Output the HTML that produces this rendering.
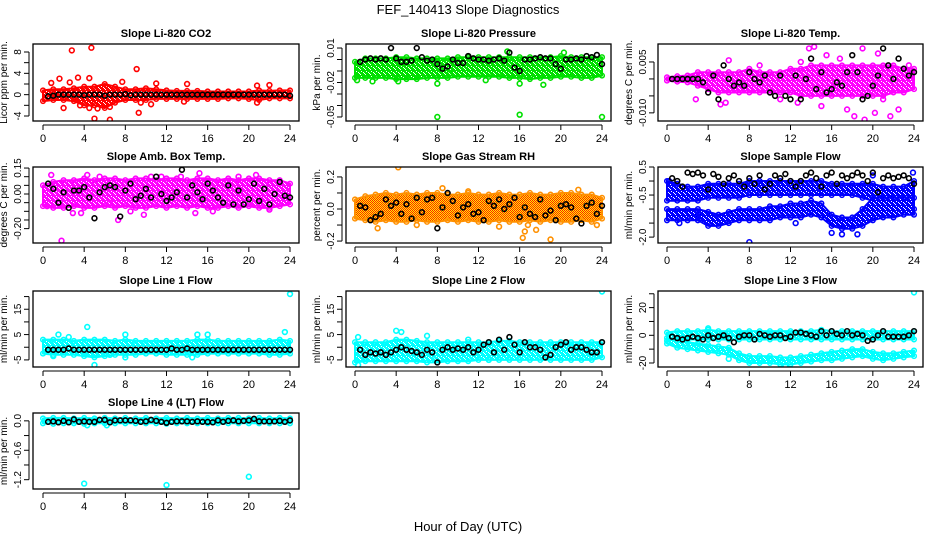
<!DOCTYPE html>
<html><head><meta charset="utf-8">
<style>
html,body{margin:0;padding:0;background:#fff;}
svg{display:block;font-family:"Liberation Sans",sans-serif;}
</style></head>
<body>
<svg id="chart" width="936" height="540" viewBox="0 0 936 540" xmlns="http://www.w3.org/2000/svg">
<defs id="defs">
<pattern id="rhpat" width="2" height="2" patternUnits="userSpaceOnUse">
<rect width="2" height="2" fill="#ffee00"/><rect width="1" height="1" fill="#ff2000"/><rect x="1" y="1" width="1" height="1" fill="#ff2000"/>
</pattern>
</defs>
<text x="468" y="14" text-anchor="middle" font-size="13">FEF_140413  Slope Diagnostics</text>
<text x="468" y="531" text-anchor="middle" font-size="13">Hour of Day (UTC)</text>
<g id="panels"></g>
</svg>
<script>
// ---- shared data ----
const xTicks = [0,4,8,12,16,20,24];
const bandHours = [0,1,2,3,4,5,6,7,8,9,10,11,12,13,14,15,16,17,18,19,20,21,22,23,24];
const blackHours = [0.5,1,1.5,2,2.5,3,3.5,4,4.5,5,5.5,6,6.5,7,7.5,8,8.5,9,9.5,10,10.5,11,11.5,12,12.5,13,13.5,14,14.5,15,15.5,16,16.5,17,17.5,18,18.5,19,19.5,20,20.5,21,21.5,22,22.5,23,23.5,24];

// Panel 1 CO2
const co2Lo = [-1.2,-1,-1,-1.2,-2,-2,-2.5,-1.5,-1,-1,-1,-0.8,-0.8,-0.8,-0.8,-0.8,-0.8,-0.8,-0.7,-0.7,-0.8,-1,-0.7,-0.7,-0.7];
const co2Hi = [0.8,1,1,1.2,1.5,1.5,2,1.5,1,1,1.2,1,0.8,0.7,0.7,0.7,0.6,0.6,0.6,0.6,0.6,0.8,0.7,0.8,0.8];
const co2OutX = [2.8,4.7,9.1,1.6,3.4,4.5,0.8,2.6,7.7,11,14,20.8,22,2,3.6,4.5,5.0,6.5,9.3,6.5,5.3,10.5,13.7,20.8,9.5];
const co2OutY = [8.3,8.8,4.8,3,3.2,3.1,2.2,2.3,2.4,2.1,2,1.7,1.8,-2.5,-2,-2.5,-4.5,-4.7,-3.4,-2.3,-2.6,-1.8,-1.3,-1.5,-1.5];
const co2Black = [-0.3,-0.2,0,0,0,0,0,-0.1,0,0,0,-0.2,0,0,0,0.1,-0.1,0,0,0,0,0,0,0,0,0,0,0,0,0,0,0,0,0,0,0,0,0,0,0,0,0,0,0,0,0,0,-0.2];
// Panel 2 Pressure
const presLo = [-0.016,-0.016,-0.016,-0.016,-0.017,-0.017,-0.017,-0.016,-0.016,-0.016,-0.015,-0.015,-0.015,-0.015,-0.015,-0.016,-0.016,-0.017,-0.016,-0.016,-0.015,-0.015,-0.016,-0.016,-0.014];
const presHi = [-0.002,0.001,0.001,0.001,0.002,0.002,0.001,0.001,0.001,0.001,0.002,0.002,0.002,0.002,0.002,0.002,0.002,0.002,0.002,0.002,0.003,0.002,0.002,0.002,0.002];
const presOutX = [8,16,24,8,16,18.3,1.7,20.3,14.8,0.2,4.2,12.7,9.2];
const presOutY = [-0.05,-0.048,-0.05,-0.021,-0.021,-0.022,-0.019,0.006,0.007,-0.018,-0.019,-0.018,-0.012];
const presBlack = [-0.002,0,0.001,0,0.001,0,0.01,0.001,-0.002,-0.002,-0.001,0.01,0.002,-0.001,0,-0.004,-0.008,-0.006,0,-0.003,-0.003,0.003,0.001,0,0,-0.001,0,0.001,-0.001,0.006,-0.007,-0.01,0,0,0.001,0.002,0.001,0.001,-0.004,-0.008,0,0,0.001,0,0.003,0.002,0.004,-0.004];
// Panel 3 Li-820 Temp
const tempLo = [-0.0005,-0.0008,-0.001,-0.002,-0.003,-0.004,-0.004,-0.004,-0.004,-0.004,-0.004,-0.004,-0.004,-0.005,-0.005,-0.005,-0.005,-0.005,-0.005,-0.005,-0.005,-0.005,-0.004,-0.004,-0.003];
const tempHi = [0.0005,0.0008,0.001,0.002,0.002,0.002,0.002,0.002,0.003,0.002,0.002,0.002,0.003,0.003,0.004,0.004,0.004,0.004,0.004,0.004,0.004,0.004,0.004,0.003,0.003];
const tempOutX = [13.8,14.3,19,20.5,12.7,15,18.2,19.2,19.5,21.7,22.5,20.2,2.8,5.2,5.7,6,17.5,15.5,11,9,16.8,21,23.5,13];
const tempOutY = [0.009,0.0095,0.009,0.0075,-0.007,-0.008,-0.011,-0.012,-0.0145,-0.011,-0.009,-0.010,-0.006,-0.0075,-0.007,0.0055,-0.009,0.007,-0.006,0.004,0.006,-0.006,0.004,0.005];
const tempBlack = [0,0,0,0,0,0,-0.001,-0.004,0.001,-0.006,0.004,0,-0.002,-0.001,-0.002,0.002,0,-0.001,0.001,-0.004,-0.005,0.001,-0.005,-0.006,0.001,-0.006,0,0.006,-0.003,0.002,-0.004,-0.003,-0.001,-0.002,0.002,0.007,0.002,-0.006,-0.005,-0.002,0.001,0.009,0.004,0,0.006,0.003,0.001,0.002];
// Panel 4 Amb Box Temp
const ambLo = [-0.07,-0.08,-0.08,-0.07,-0.08,-0.08,-0.07,-0.08,-0.07,-0.08,-0.08,-0.07,-0.08,-0.07,-0.08,-0.07,-0.08,-0.08,-0.07,-0.08,-0.07,-0.08,-0.08,-0.07,-0.06];
const ambHi = [0.05,0.07,0.08,0.08,0.09,0.08,0.09,0.09,0.08,0.09,0.09,0.08,0.09,0.09,0.08,0.09,0.09,0.08,0.09,0.08,0.09,0.09,0.08,0.08,0.06];
const ambOutX = [1.8,0.8,4.3,15.2,7.3,10.5,3.7,2.9,9.8,14.8,16.5,6.5,22,11.5,19,20.7,13.4,8.5,5.5,0.4];
const ambOutY = [-0.27,0.11,0.11,0.12,-0.15,0.1,-0.11,-0.11,-0.12,-0.11,-0.1,-0.05,-0.09,0.1,0.1,0.11,0.1,-0.1,0.1,-0.07];
const ambBlack = [0.06,0.03,-0.05,0.01,-0.08,0.02,0.02,0.04,-0.02,-0.14,0.01,0.04,0.05,0.04,-0.13,0.02,0.06,-0.03,-0.01,0.03,-0.02,0.1,0,-0.04,-0.02,0.01,0.14,-0.02,0.05,0.01,-0.03,0.06,0.02,-0.02,-0.05,0.05,-0.06,0.02,-0.06,-0.03,0.06,-0.04,0.03,-0.06,0,0.07,-0.01,-0.02];
// Panel 5 Gas Stream RH
const rhLo = [-0.06,-0.07,-0.08,-0.07,-0.08,-0.08,-0.07,-0.08,-0.08,-0.07,-0.08,-0.07,-0.08,-0.08,-0.07,-0.08,-0.08,-0.07,-0.08,-0.07,-0.08,-0.08,-0.07,-0.08,-0.06];
const rhHi = [0.06,0.08,0.09,0.1,0.09,0.1,0.09,0.1,0.1,0.09,0.09,0.1,0.09,0.09,0.1,0.09,0.09,0.1,0.09,0.09,0.1,0.1,0.09,0.09,0.07];
const rhOutX = [4.2,16.3,16.5,19,16.8,2.2,8.5,17.6,23.5,21.7,14,11,6];
const rhOutY = [0.26,-0.18,-0.14,-0.19,-0.1,-0.12,0.13,-0.13,-0.1,0.12,-0.11,0.11,-0.1];
const rhBlack = [0.02,0.01,-0.07,-0.05,-0.03,0.06,0.02,0.04,-0.03,0.03,-0.06,0.07,-0.02,0.06,0.07,-0.12,0.01,0.10,0.05,-0.04,0.01,0.03,-0.03,-0.02,-0.07,0.05,0.02,0.06,0.00,0.03,0.07,-0.05,0.01,-0.03,-0.05,0.06,-0.04,-0.01,-0.07,0.02,0.03,0.01,-0.06,-0.09,0.02,0.04,-0.03,0.02];
// Panel 6 Sample Flow (two bands)
const sfTopLo = [-0.7,-0.7,-0.7,-0.7,-0.6,-0.6,-0.6,-0.6,-0.5,-0.5,-0.5,-0.5,-0.5,-0.5,-0.5,-0.5,-0.5,-0.5,-0.5,-0.6,-0.7,-0.8,-0.9,-1.0,-1.0];
const sfTopHi = [0,-0.1,-0.2,-0.2,-0.1,-0.1,-0.1,-0.1,0,0,0,0,0,0,0,0,-0.1,-0.1,-0.1,-0.1,-0.1,-0.2,-0.2,-0.2,0];
const sfBotLo = [-1.4,-1.4,-1.4,-1.4,-1.6,-1.6,-1.5,-1.4,-1.4,-1.4,-1.4,-1.3,-1.3,-1.3,-1.2,-1.3,-1.6,-1.7,-1.7,-1.6,-1.4,-1.3,-1.3,-1.2,-1.2];
const sfBotHi = [-1.0,-1.0,-1.0,-1.0,-1.1,-1.2,-1.1,-1.0,-1.0,-1.0,-0.9,-0.9,-0.8,-0.8,-0.7,-0.8,-1.2,-1.3,-1.3,-1.0,-0.6,-0.6,-0.6,-0.6,-0.6];
const sfOutX = [8,16,1.2,23.9,0.2,17,3,12.5,18.5,20];
const sfOutY = [-2.18,-1.85,-1.5,0.3,0,-1.9,-1.2,-1.5,-1.9,0.2];
const sfBlack = [0.1,0.0,-0.2,0.3,0.25,0.3,0.2,-0.3,0.25,0.15,-0.1,0.1,0.2,0,-0.2,0.1,-0.1,0.2,-0.3,-0.1,0.2,0.1,0.25,0,-0.2,0,0.2,0.3,0.1,-0.2,0.2,0.3,-0.1,0.2,0.1,0.2,0.3,0.2,0,0.3,-0.4,0.1,0.2,0.1,0.15,0.2,0.1,-0.1];
// Panel 7 Line 1 Flow
const l1Lo = [-2.5,-3,-3,-3,-3.5,-4,-3.5,-3,-3,-3,-2.5,-2.5,-3,-3,-3,-3,-2.5,-2.5,-2.5,-2.5,-2.5,-2.5,-3,-3,-2.5];
const l1Hi = [3,3,3,2.5,3,3,3,2.5,3,2.5,2.5,2.5,2.5,2.5,2.5,3,3,2.5,2.5,2.5,2.5,2.5,2.5,3,2.5];
const l1OutX = [24,4.3,5,8,1.5,15,23.5,14.5,8,1,16,6.5,2.5];
const l1OutY = [21,8,-7,5,5,5,6,-4,-4,-3.5,5,-3,4];
const l1Black = [-1,-1,-1,-1,-0.5,-1,-1,-1,-1,-1,-1,-1,-1,-1,-1,-1,-1,-1,-1,-1,-1,-1,-1,-1,-0.5,-1,-1,-0.5,-1,-1,-1,-1,-1,-1,-1,-1,-1,-1,-1,-1,-1,-1,-1,-1,-1,-1,-1,-1];
// Panel 8 Line 2 Flow
const l2Lo = [-6,-5.5,-5.5,-5.5,-5.5,-5.5,-5.5,-6,-6,-5.5,-5.5,-5.5,-5,-5,-5,-5,-5,-5,-5,-5,-5,-5,-5,-5,-4];
const l2Hi = [2,2,2,2,3,3,2.5,2,2,2,2,2,2,2,2.5,2.5,2,2,2,2,2,2,2,2,2];
const l2OutX = [24,4,4.5,7,0.3,0.3,7.8,11,13];
const l2OutY = [22,6.5,6,4.5,-7,4,-5,3,-5];
const l2Black = [-1,-3,-2,-2.5,-2,-3,-2,-1,0,-1,-1.5,-2,-3,-1,-2,-6,-1,0,-1,-0.5,-1,0,-2,-1,1,2,-2,3,-1,4,1,-2,2,0,0,-1,-4,-3,0,1,2,-1,0,0,-1,-2,-2,2];
// Panel 9 Line 3 Flow (two bands)
const l3TopLo = [-4,-3,-3,-3,-3,-3,-3,-3,-3,-3,-3,-3,-3,-3,-3,-3,-3,-3,-3,-3,-3,-3,-3,-3,-3];
const l3TopHi = [2,3,3,3,4,3,3,3,3,3,3,3,3,3,3,4,3,3,3,3,3,3,3,3,3];
const l3BotLo = [-6,-9,-10,-11,-12,-13,-14,-18,-20,-20,-20,-21,-21,-20,-19,-18,-18,-17,-16,-15,-17,-18,-17,-16,-15];
const l3BotHi = [-2,-4,-5,-6,-7,-8,-9,-13,-15,-15,-15,-16,-16,-15,-14,-13,-12,-11,-10,-10,-12,-13,-13,-12,-11];
const l3OutX = [24,6,11.5,4];
const l3OutY = [31,-17,-22,5];
const l3Black = [-1,-2,-3,-2,-1,-2,-3,0,-2,-1,0,-2,-5,-1,0,0,-3,1,0,-1,0,0,-2,-1,2,2,1,0,-1,3,0,3,1,0,3,0,1,0,-4,-3,0,3,-1,-1,-1,-1,0,3];
// Panel 10 Line 4 (LT) Flow
const l4Lo = [-0.05,-0.06,-0.05,-0.05,-0.06,-0.05,-0.05,-0.05,-0.05,-0.05,-0.05,-0.05,-0.06,-0.05,-0.05,-0.05,-0.05,-0.05,-0.05,-0.05,-0.05,-0.05,-0.05,-0.05,-0.05];
const l4Hi = [0.05,0.06,0.06,0.05,0.06,0.05,0.06,0.05,0.06,0.05,0.06,0.05,0.06,0.05,0.06,0.05,0.06,0.05,0.06,0.06,0.05,0.06,0.05,0.06,0.05];
const l4OutX = [4,12,20,4.3,6.2];
const l4OutY = [-1.28,-1.31,-1.14,-0.09,-0.09];
const l4Black = [-0.02,-0.01,-0.03,0,-0.03,0.03,-0.02,-0.01,-0.02,-0.02,0.02,0.02,-0.03,0.01,0.01,0.01,0.01,0,-0.02,-0.01,0.02,0,-0.02,-0.04,-0.02,-0.01,-0.01,-0.01,-0.02,-0.01,-0.02,-0.02,-0.03,0.01,-0.02,0,0.01,-0.01,0,0.01,0.04,-0.01,-0.01,-0.01,-0.01,0,-0.02,0.01];

// y tick values & labels
const co2Ticks=[-4,-2,0,2,4,6,8], co2Labels=[-4,0,4,8];
const presTicks=[0.01,0,-0.01,-0.02,-0.03,-0.04,-0.05], presLabels=[0.01,-0.02,-0.05];
const tempTicks=[0.005,0,-0.005,-0.01], tempLabels=[0.005,-0.01];
const ambTicks=[0.15,0.1,0.05,0,-0.05,-0.1,-0.15,-0.2], ambLabels=[0.15,0,-0.2];
const rhTicks=[0.2,0.1,0,-0.1,-0.2], rhLabels=[0.2,0,-0.2];
const sfTicks=[0.5,0,-0.5,-1,-1.5,-2], sfLabels=[0.5,-0.5,-2];
const l1Ticks=[20,15,10,5,0,-5], l1Labels=[15,5,-5];
const l3Ticks=[30,20,10,0,-10,-20], l3Labels=[20,0,-20];
const l4Ticks=[0,-0.3,-0.6,-0.9,-1.2], l4Labels=[0,-0.6,-1.2];

const cols=[{l:33,r:299,x0:43,x1:290},{l:346,r:611,x0:355,x1:602},{l:658,r:923,x0:667,x1:914}];
const rows=[{t:44,b:121},{t:167,b:243},{t:291,b:367},{t:413,b:489}];

const panels=[
 {name:'co2',title:'Slope Li-820 CO2',ylab:'Licor ppm per min.',c:0,r:0,ymin:-4.94,ymax:9.5,color:'#ff0000',bands:[[co2Lo,co2Hi]],ox:co2OutX,oy:co2OutY,bk:co2Black,ticks:co2Ticks,labels:co2Labels,fmt:v=>String(v)},
 {name:'pressure',title:'Slope Li-820 Pressure',ylab:'kPa per min.',c:1,r:0,ymin:-0.0535,ymax:0.0135,color:'#00e000',bands:[[presLo,presHi]],ox:presOutX,oy:presOutY,bk:presBlack,ticks:presTicks,labels:presLabels,fmt:v=>v.toFixed(2)},
 {name:'li820-temp',title:'Slope Li-820 Temp.',ylab:'degrees C per min.',c:2,r:0,ymin:-0.0124,ymax:0.0103,color:'#ff00ff',bands:[[tempLo,tempHi]],ox:tempOutX,oy:tempOutY,bk:tempBlack,ticks:tempTicks,labels:tempLabels,fmt:v=>v.toFixed(3)},
 {name:'amb-box-temp',title:'Slope Amb. Box Temp.',ylab:'degrees C per min.',c:0,r:1,ymin:-0.283,ymax:0.156,color:'#ff00ff',bands:[[ambLo,ambHi]],ox:ambOutX,oy:ambOutY,bk:ambBlack,ticks:ambTicks,labels:ambLabels,fmt:v=>v.toFixed(2)},
 {name:'gas-stream-rh',title:'Slope Gas Stream RH',ylab:'percent per min.',c:1,r:1,ymin:-0.212,ymax:0.262,color:'#ff9000',fill:'url(#rhpat)',bands:[[rhLo,rhHi]],ox:rhOutX,oy:rhOutY,bk:rhBlack,ticks:rhTicks,labels:rhLabels,fmt:v=>v.toFixed(1)},
 {name:'sample-flow',title:'Slope Sample Flow',ylab:'ml/min per min.',c:2,r:1,ymin:-2.21,ymax:0.5,color:'#0000ff',bands:[[sfTopLo,sfTopHi],[sfBotLo,sfBotHi]],ox:sfOutX,oy:sfOutY,bk:sfBlack,ticks:sfTicks,labels:sfLabels,fmt:v=>v.toFixed(1)},
 {name:'line1-flow',title:'Slope Line 1 Flow',ylab:'ml/min per min.',c:0,r:2,ymin:-7.8,ymax:22.2,color:'#00ffff',bands:[[l1Lo,l1Hi]],ox:l1OutX,oy:l1OutY,bk:l1Black,ticks:l1Ticks,labels:l1Labels,fmt:v=>String(v)},
 {name:'line2-flow',title:'Slope Line 2 Flow',ylab:'ml/min per min.',c:1,r:2,ymin:-7.8,ymax:22.2,color:'#00ffff',bands:[[l2Lo,l2Hi]],ox:l2OutX,oy:l2OutY,bk:l2Black,ticks:l1Ticks,labels:l1Labels,fmt:v=>String(v)},
 {name:'line3-flow',title:'Slope Line 3 Flow',ylab:'ml/min per min.',c:2,r:2,ymin:-22.9,ymax:32,color:'#00ffff',bands:[[l3TopLo,l3TopHi],[l3BotLo,l3BotHi]],ox:l3OutX,oy:l3OutY,bk:l3Black,ticks:l3Ticks,labels:l3Labels,fmt:v=>String(v)},
 {name:'line4-flow',title:'Slope Line 4 (LT) Flow',ylab:'ml/min per min.',c:0,r:3,ymin:-1.39,ymax:0.16,color:'#00ffff',bands:[[l4Lo,l4Hi]],ox:l4OutX,oy:l4OutY,bk:l4Black,ticks:l4Ticks,labels:l4Labels,fmt:v=>v.toFixed(1)}
];

const NS='http://www.w3.org/2000/svg';
function mk(tag,attrs,parent){const e=document.createElementNS(NS,tag);for(const k in attrs)e.setAttribute(k,attrs[k]);parent.appendChild(e);return e;}
const root=document.getElementById('panels');
const defs=document.getElementById('defs');

panels.forEach(p=>{
  const C=cols[p.c],R=rows[p.r];
  const xs=h=>C.x0+(h/24)*(C.x1-C.x0);
  const ys=v=>R.b-(v-p.ymin)/(p.ymax-p.ymin)*(R.b-R.t);
  // speckled texture pattern
  let fill=p.fill;
  if(!fill){
    const pat=mk('pattern',{id:'pat-'+p.name,width:5,height:5,patternUnits:'userSpaceOnUse'},defs);
    mk('rect',{width:5,height:5,fill:p.color},pat);
    mk('rect',{x:1,y:1,width:1,height:1,fill:'#fff'},pat);
    mk('rect',{x:3,y:2,width:1,height:1,fill:'#fff'},pat);
    mk('rect',{x:0,y:4,width:1,height:1,fill:'#fff'},pat);
    mk('rect',{x:4,y:3,width:1,height:1,fill:'#fff'},pat);
    fill='url(#pat-'+p.name+')';
  }
  const g=mk('g',{},root);
  
  
  const clip=mk('clipPath',{id:'clip-'+p.name},g);
  mk('rect',{x:C.l,y:R.t,width:C.r-C.l,height:R.b-R.t},clip);
  const plot=mk('g',{'clip-path':'url(#clip-'+p.name+')'},g);
  p.bands.forEach((b,bi)=>{
    let pts=bandHours.map((h,i)=>xs(h).toFixed(1)+','+ys(b[1][i]).toFixed(1));
    pts=pts.concat(bandHours.slice().reverse().map((h,j)=>{const i=bandHours.length-1-j;return xs(h).toFixed(1)+','+ys(b[0][i]).toFixed(1);}));
    const poly=mk('polygon',{points:pts.join(' '),fill:fill,stroke:p.color,'stroke-width':2,'stroke-linejoin':'round'},plot);
    
    
    bandHours.forEach((h,i)=>{
      [b[0][i],b[1][i]].forEach(v=>{
        const c=mk('circle',{cx:xs(h),cy:ys(v),r:2.3,fill:'none',stroke:p.color,'stroke-width':1.5},plot);
        
        
      });
    });
  });
  p.ox.forEach((h,i)=>{
    const c=mk('circle',{cx:xs(h),cy:ys(p.oy[i]),r:2.4,fill:'none',stroke:p.color,'stroke-width':1.6},plot);
    
    
  });
  blackHours.forEach((h,i)=>{
    const c=mk('circle',{cx:xs(h),cy:ys(p.bk[i]),r:2.4,fill:'none',stroke:'#000','stroke-width':1.6},plot);
    
    
  });
  const box=mk('rect',{x:C.l,y:R.t,width:C.r-C.l,height:R.b-R.t,fill:'none',stroke:'#000','stroke-width':1.3},g);
  
  
  const xa=mk('g',{},g);
  
  
  mk('line',{x1:xs(0),x2:xs(24),y1:R.b+4,y2:R.b+4,stroke:'#000','stroke-width':1},xa);
  xTicks.forEach(t=>{
    mk('line',{x1:xs(t),x2:xs(t),y1:R.b+4,y2:R.b+9,stroke:'#000','stroke-width':1},xa);
    const tx=mk('text',{x:xs(t),y:R.b+21,'text-anchor':'middle','font-size':11},xa);
    tx.textContent=t;
  });
  const ya=mk('g',{},g);
  
  
  const yt=p.ticks.map(ys);
  mk('line',{x1:C.l-4,x2:C.l-4,y1:Math.min(...yt),y2:Math.max(...yt),stroke:'#000','stroke-width':1},ya);
  p.ticks.forEach(t=>{mk('line',{x1:C.l-9,x2:C.l-4,y1:ys(t),y2:ys(t),stroke:'#000','stroke-width':1},ya);});
  p.labels.forEach(t=>{
    const y=ys(t),x=C.l-12;
    const tx=mk('text',{x:x,y:y,transform:'rotate(-90 '+x+' '+y+')','text-anchor':'middle','font-size':10},ya);
    tx.textContent=p.fmt(t);
  });
  const yl=mk('text',{x:C.l-26,y:(R.t+R.b)/2,transform:'rotate(-90 '+(C.l-26)+' '+((R.t+R.b)/2)+')','text-anchor':'middle','font-size':10},g);
  yl.textContent=p.ylab;
  
  
  const tt=mk('text',{x:(C.l+C.r)/2,y:R.t-7,'text-anchor':'middle','font-size':11,'font-weight':'bold'},g);
  tt.textContent=p.title;
  
  
});
</script>
</body></html>
